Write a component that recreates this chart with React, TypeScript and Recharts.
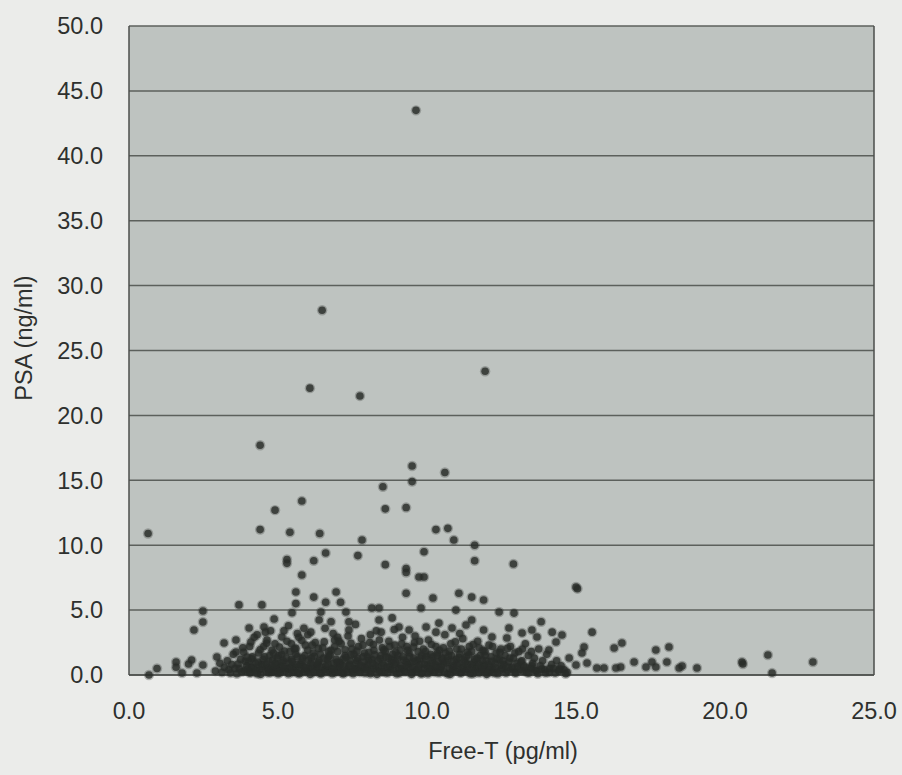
import React from 'react';
import { ScatterChart, Scatter, XAxis, YAxis, CartesianGrid, ReferenceLine } from 'recharts';

// Free-T (pg/ml), PSA (ng/ml) pairs
const highPoints: [number, number][] = [
  [0.64, 10.9], [9.63, 43.5], [6.48, 28.1], [6.07, 22.1], [11.95, 23.4], [7.75, 21.5],
  [4.4, 17.7], [9.5, 16.1], [10.6, 15.6], [9.5, 14.9], [8.52, 14.5], [5.8, 13.4],
  [4.9, 12.7], [8.6, 12.8], [9.3, 12.9], [4.4, 11.2], [5.4, 11.0], [6.4, 10.9],
  [7.82, 10.4], [10.3, 11.2], [10.7, 11.3], [10.9, 10.4], [11.6, 10.0], [6.6, 9.4],
  [7.68, 9.2], [9.9, 9.5], [5.3, 8.9], [5.3, 8.6], [6.2, 8.8], [8.6, 8.5],
  [11.6, 8.8], [12.9, 8.55], [9.3, 8.2], [9.3, 7.9], [9.73, 7.55], [9.9, 7.55],
  [5.8, 7.7], [15.0, 6.78], [15.05, 6.65], [5.6, 6.4], [6.2, 6.0], [6.95, 6.4],
  [6.6, 5.6], [7.1, 5.6], [5.6, 5.5], [9.3, 6.3], [10.2, 5.93], [11.07, 6.3],
  [11.5, 6.0], [11.9, 5.78], [3.69, 5.4], [4.46, 5.4],
];

const midPoints: [number, number][] = [
  [2.48, 4.93], [2.48, 4.08], [2.18, 3.47], [4.87, 4.31], [4.53, 3.7], [4.03, 3.62],
  [5.47, 4.8], [6.44, 4.85], [7.28, 4.85], [8.15, 5.16], [8.39, 5.16], [9.8, 5.16],
  [8.39, 4.24], [8.83, 4.4], [6.38, 4.24], [6.78, 4.1], [7.38, 4.1], [5.87, 3.6],
  [7.38, 3.47], [9.06, 3.7], [9.4, 3.47], [5.13, 2.93], [8.46, 3.3], [9.97, 3.7],
  [10.97, 5.0], [12.42, 4.85], [12.92, 4.77], [10.4, 4.0], [11.5, 4.24], [13.83, 4.1],
  [10.84, 3.62], [11.31, 3.85], [12.75, 3.62], [13.52, 3.47], [14.2, 3.3], [14.53, 3.08],
  [11.9, 3.47], [12.18, 2.93], [13.19, 3.24], [13.69, 2.93], [12.68, 2.85], [14.33, 2.54],
  [15.54, 3.3], [3.19, 2.47], [3.59, 2.7], [4.09, 2.54], [4.63, 2.7],
  [4.3, 3.1], [4.75, 3.4], [5.35, 3.8], [6.1, 3.3], [6.85, 3.2], [7.6, 3.9], [8.1, 3.1],
  [8.9, 3.5], [9.6, 3.0], [10.3, 3.3], [11.1, 3.2], [7.0, 2.9], [5.65, 3.2],
];

const tailPoints: [number, number][] = [
  [0.67, 0.0], [0.94, 0.5], [1.58, 1.0], [1.58, 0.6], [1.78, 0.15], [2.0, 0.85],
  [2.1, 1.15], [2.28, 0.15], [2.48, 0.77], [2.95, 1.39], [3.59, 1.77], [3.96, 1.39],
  [14.09, 1.93], [14.77, 1.31], [15.0, 0.77], [16.54, 2.47], [16.28, 2.08], [15.27, 2.16],
  [15.2, 1.7], [17.68, 1.93], [18.12, 2.16], [16.95, 1.0], [15.37, 0.92], [15.7, 0.54],
  [15.94, 0.54], [16.34, 0.54], [16.5, 0.62], [17.35, 0.62], [17.55, 1.0], [17.68, 0.62],
  [18.05, 1.0], [18.46, 0.54], [18.56, 0.69], [19.06, 0.54], [20.57, 1.0], [20.6, 0.85],
  [21.44, 1.54], [21.58, 0.15], [22.95, 1.0],
];

const lowBand: [number, number][] = [
  [2.9, 0.3], [3.05, 0.9], [3.12, 0.2], [3.2, 0.6], [3.3, 1.1], [3.35, 0.4], [3.45, 0.8], [3.5, 1.6],
  [3.62, 0.1], [3.7, 0.5], [3.75, 1.2], [3.82, 2.1], [3.88, 0.3], [3.95, 0.7], [4.02, 1.0], [4.08, 0.2],
  [4.1, 0.6], [4.15, 1.4], [4.2, 2.9], [4.25, 0.9], [4.3, 0.1], [4.35, 1.7], [4.38, 0.4], [4.45, 0.8],
  [4.5, 1.2], [4.52, 2.2], [4.58, 3.3], [4.6, 0.3], [4.65, 0.5], [4.7, 1.0], [4.72, 1.5], [4.78, 0.2],
  [4.8, 1.9], [4.85, 0.6], [4.9, 2.4], [4.92, 0.9], [4.97, 1.3], [5.0, 0.1], [5.05, 0.4], [5.1, 0.7],
  [5.12, 1.6], [5.18, 1.1], [5.2, 3.4], [5.25, 0.3], [5.3, 2.6], [5.32, 0.5], [5.38, 0.9], [5.4, 1.8],
  [5.45, 1.2], [5.5, 0.2], [5.55, 2.0], [5.58, 0.6], [5.62, 0.8], [5.65, 1.4], [5.7, 2.9], [5.72, 0.1],
  [5.78, 0.4], [5.8, 1.0], [5.85, 0.7], [5.9, 1.5], [5.92, 2.3], [5.98, 0.3], [6.0, 3.1], [6.05, 0.5],
  [6.1, 0.9], [6.12, 1.3], [6.18, 1.7], [6.2, 0.2], [6.25, 2.5], [6.3, 0.6], [6.32, 0.8], [6.38, 1.1],
  [6.42, 1.6], [6.45, 0.1], [6.5, 2.1], [6.55, 0.4], [6.58, 3.6], [6.6, 0.7], [6.65, 1.2], [6.7, 1.4],
  [6.72, 0.3], [6.78, 1.9], [6.8, 0.5], [6.85, 0.9], [6.9, 2.7], [6.92, 0.2], [6.98, 1.0], [7.0, 1.8],
  [7.05, 0.6], [7.1, 0.8], [7.12, 2.4], [7.18, 1.2], [7.2, 0.1], [7.25, 1.5], [7.3, 0.4], [7.35, 3.0],
  [7.38, 0.7], [7.42, 1.1], [7.48, 2.0], [7.5, 0.3], [7.55, 1.6], [7.6, 0.5], [7.62, 0.9], [7.68, 1.3],
  [7.7, 2.2], [7.75, 0.2], [7.8, 2.8], [7.82, 0.6], [7.88, 1.0], [7.9, 1.7], [7.95, 0.4], [8.0, 1.4],
  [8.02, 0.8], [8.08, 2.5], [8.1, 0.1], [8.15, 1.2], [8.2, 0.5], [8.22, 1.9], [8.28, 0.7], [8.3, 3.4],
  [8.35, 1.1], [8.4, 0.3], [8.45, 1.5], [8.5, 2.1], [8.52, 0.9], [8.58, 0.2], [8.6, 1.8], [8.65, 0.6],
  [8.7, 1.3], [8.72, 2.6], [8.78, 0.4], [8.8, 1.0], [8.85, 1.6], [8.9, 0.8], [8.92, 2.3], [8.98, 0.1],
  [9.0, 1.2], [9.05, 0.5], [9.1, 1.9], [9.12, 0.7], [9.18, 2.9], [9.2, 1.4], [9.25, 0.3], [9.3, 1.0],
  [9.32, 2.2], [9.38, 0.6], [9.4, 1.7], [9.45, 0.9], [9.5, 0.2], [9.55, 1.3], [9.58, 2.5], [9.62, 0.4],
  [9.68, 1.1], [9.7, 1.8], [9.75, 0.8], [9.8, 0.1], [9.82, 1.5], [9.88, 2.0], [9.9, 0.5], [9.95, 1.2],
  [10.0, 0.7], [10.05, 2.7], [10.08, 0.3], [10.12, 1.6], [10.15, 0.9], [10.2, 1.4], [10.25, 0.2], [10.3, 2.2],
  [10.32, 0.6], [10.38, 1.0], [10.42, 1.9], [10.45, 0.4], [10.5, 1.3], [10.55, 0.8], [10.6, 3.1], [10.62, 1.7],
  [10.68, 0.1], [10.7, 1.1], [10.75, 0.5], [10.8, 2.4], [10.82, 1.5], [10.88, 0.7], [10.92, 0.3], [10.98, 1.2],
  [11.0, 2.0], [11.05, 0.9], [11.1, 1.6], [11.15, 0.2], [11.2, 2.8], [11.22, 0.6], [11.28, 1.0], [11.32, 1.4],
  [11.38, 0.4], [11.42, 2.2], [11.48, 0.8], [11.5, 1.8], [11.55, 0.1], [11.6, 1.2], [11.65, 0.5], [11.7, 2.6],
  [11.72, 0.9], [11.78, 1.5], [11.82, 0.3], [11.88, 1.9], [11.92, 0.7], [11.98, 1.1], [12.02, 0.2], [12.08, 2.3],
  [12.1, 0.6], [12.15, 1.4], [12.22, 0.4], [12.28, 0.9], [12.32, 1.7], [12.38, 0.1], [12.42, 1.2], [12.48, 2.0],
  [12.52, 0.5], [12.58, 0.8], [12.62, 1.5], [12.7, 0.3], [12.75, 1.0], [12.8, 2.2], [12.85, 0.6], [12.9, 1.3],
  [12.95, 0.2], [13.02, 0.9], [13.08, 1.8], [13.12, 0.4], [13.18, 1.1], [13.25, 0.7], [13.3, 2.4], [13.35, 0.2],
  [13.4, 1.5], [13.48, 0.5], [13.55, 0.9], [13.6, 1.3], [13.68, 0.3], [13.75, 2.0], [13.8, 0.7], [13.88, 1.1],
  [13.95, 0.4], [14.02, 1.6], [14.1, 0.2], [14.18, 0.8], [14.25, 0.5], [14.35, 1.1], [14.42, 0.3], [14.5, 0.7],
  [14.6, 0.4], [14.7, 0.2],
];

// the solid core of the cloud, y below about 1.6
const coreBand: [number, number][] = [
  [3.4, 0.15], [3.55, 0.5], [3.66, 0.85], [3.78, 0.25], [3.9, 1.05], [3.98, 0.45], [4.05, 0.15], [4.12, 1.25],
  [4.18, 0.55], [4.28, 0.35], [4.33, 1.0], [4.42, 0.05], [4.48, 0.65], [4.55, 1.4], [4.62, 0.85], [4.68, 0.15],
  [4.75, 0.45], [4.82, 1.15], [4.88, 0.3], [4.95, 0.75], [5.02, 1.5], [5.08, 0.2], [5.15, 0.95], [5.22, 0.5],
  [5.28, 1.3], [5.35, 0.1], [5.42, 0.6], [5.48, 1.05], [5.53, 0.35], [5.6, 1.6], [5.67, 0.15], [5.74, 0.8],
  [5.82, 1.3], [5.88, 0.25], [5.95, 0.55], [6.02, 1.15], [6.08, 0.05], [6.15, 0.7], [6.22, 1.45], [6.28, 0.35],
  [6.35, 0.95], [6.4, 0.15], [6.48, 0.6], [6.53, 1.3], [6.62, 0.25], [6.68, 0.85], [6.75, 1.55], [6.82, 0.1],
  [6.88, 0.45], [6.95, 1.2], [7.02, 0.3], [7.08, 0.95], [7.15, 0.15], [7.22, 0.65], [7.28, 1.35], [7.33, 0.25],
  [7.4, 0.85], [7.45, 1.55], [7.52, 0.1], [7.58, 0.45], [7.65, 1.1], [7.72, 0.35], [7.78, 0.75], [7.85, 1.4],
  [7.92, 0.15], [7.98, 0.6], [8.05, 1.15], [8.12, 0.3], [8.18, 0.9], [8.25, 1.55], [8.32, 0.05], [8.38, 0.55],
  [8.43, 1.25], [8.48, 0.25], [8.55, 0.75], [8.62, 1.4], [8.68, 0.15], [8.75, 0.65], [8.82, 1.2], [8.88, 0.35],
  [8.95, 0.95], [9.02, 1.5], [9.08, 0.15], [9.15, 0.5], [9.22, 1.15], [9.28, 0.25], [9.35, 0.8], [9.42, 1.4],
  [9.48, 0.05], [9.52, 0.6], [9.6, 1.05], [9.65, 0.3], [9.72, 0.55], [9.78, 1.3], [9.85, 0.15], [9.92, 0.85],
  [9.98, 1.45], [10.03, 0.1], [10.1, 0.5], [10.18, 1.1], [10.22, 0.35], [10.28, 0.8], [10.35, 1.5], [10.4, 0.15],
  [10.48, 0.65], [10.52, 1.2], [10.58, 0.25], [10.65, 0.95], [10.72, 1.45], [10.78, 0.05], [10.85, 0.55], [10.9, 1.05],
  [10.95, 0.35], [11.02, 0.75], [11.08, 1.35], [11.12, 0.15], [11.18, 0.45], [11.25, 1.15], [11.3, 0.3], [11.35, 0.85],
  [11.4, 1.55], [11.45, 0.1], [11.52, 0.6], [11.58, 1.0], [11.62, 0.35], [11.68, 1.3], [11.75, 0.15], [11.8, 0.7],
  [11.85, 1.15], [11.9, 0.45], [11.95, 1.5], [12.0, 0.05], [12.05, 0.85], [12.12, 0.3], [12.18, 1.05], [12.25, 0.15],
  [12.3, 0.55], [12.35, 1.25], [12.45, 0.35], [12.5, 0.75], [12.55, 1.1], [12.65, 0.15], [12.72, 0.6], [12.78, 1.3],
  [12.88, 0.45], [12.98, 0.15], [13.05, 0.65], [13.15, 1.0], [13.22, 0.3], [13.32, 0.55], [13.42, 0.15], [13.52, 0.7],
  [13.62, 0.35], [13.72, 0.1], [13.85, 0.45], [13.98, 0.15], [14.12, 0.5], [14.3, 0.15], [14.45, 0.45], [14.65, 0.1],
];

// the looser layer above the core, y about 1.6 to 2.8
const upperBand: [number, number][] = [
  [3.85, 1.75], [4.05, 2.2], [4.4, 1.95], [4.62, 2.45], [4.85, 1.7], [5.05, 2.15], [5.22, 1.85], [5.45, 2.4],
  [5.6, 2.05], [5.8, 2.65], [6.0, 1.9], [6.15, 2.3], [6.35, 2.05], [6.55, 2.55], [6.7, 1.8], [6.9, 2.2],
  [7.05, 2.6], [7.25, 1.95], [7.45, 2.45], [7.65, 1.85], [7.85, 2.3], [8.05, 1.75], [8.2, 2.35], [8.4, 2.7],
  [8.55, 1.95], [8.75, 2.2], [8.95, 1.75], [9.15, 2.4], [9.35, 1.9], [9.55, 2.15], [9.75, 2.6], [9.95, 1.8],
  [10.15, 2.35], [10.35, 1.7], [10.55, 2.1], [10.75, 1.85], [10.95, 2.55], [11.15, 2.0], [11.35, 1.75], [11.55, 2.35],
  [11.75, 2.1], [11.95, 1.8], [12.2, 2.2], [12.45, 1.75], [12.7, 2.05], [12.95, 1.7], [13.2, 2.0], [13.5, 1.8],
];

const xTicks = [0, 5, 10, 15, 20, 25];
const yTicks = [0, 5, 10, 15, 20, 25, 30, 35, 40, 45, 50];

const data = [...lowBand, ...coreBand, ...upperBand, ...tailPoints, ...midPoints, ...highPoints].map(([x, y]) => ({ x, y }));

const font = '"Liberation Sans", Arial, sans-serif';
const tickStyle = { fill: '#2e302e', fontSize: 23.5, fontFamily: font };

const Dot = (props: any) => (
  <g>
    <circle cx={props.cx} cy={props.cy} r={5.2} fill="#2c302c" fillOpacity={0.28} />
    <circle cx={props.cx} cy={props.cy} r={3.8} fill="#282c28" fillOpacity={0.8} />
  </g>
);

export default function App() {
  return (
    <div style={{ position: 'absolute', left: 0, top: 0, width: 902, height: 775, background: '#ebecea', fontFamily: font }}>
      <ScatterChart width={902} height={775} margin={{ top: 26, right: 28, bottom: 0, left: 9 }}>
        <CartesianGrid vertical={false} fill="#bec3c0" stroke="#5c605c" strokeWidth={1.5} />
        <XAxis
          type="number"
          dataKey="x"
          domain={[0, 25]}
          ticks={xTicks}
          tickFormatter={(v: number) => v.toFixed(1)}
          tick={tickStyle}
          tickSize={0}
          tickMargin={27}
          height={100}
          stroke="#4b4e4b"
          strokeWidth={1.5}
        />
        <YAxis
          type="number"
          dataKey="y"
          domain={[0, 50]}
          ticks={yTicks}
          tickFormatter={(v: number) => v.toFixed(1)}
          tick={tickStyle}
          tickSize={0}
          tickMargin={26}
          width={120}
          stroke="#4b4e4b"
          strokeWidth={1.5}
        />
        <ReferenceLine x={25} stroke="#4b4e4b" strokeWidth={1.5} />
        <Scatter data={data} shape={Dot} isAnimationActive={false} />
      </ScatterChart>
      <div style={{ position: 'absolute', left: 503, top: 763, transform: 'translate(-50%, -100%)', fontSize: 23.5, color: '#2e302e', whiteSpace: 'nowrap', lineHeight: 1 }}>
        Free-T (pg/ml)
      </div>
      <div style={{ position: 'absolute', left: 25, top: 338, transform: 'translate(-50%, -50%) rotate(-90deg)', fontSize: 23.5, color: '#2e302e', whiteSpace: 'nowrap', lineHeight: 1 }}>
        PSA (ng/ml)
      </div>
    </div>
  );
}
